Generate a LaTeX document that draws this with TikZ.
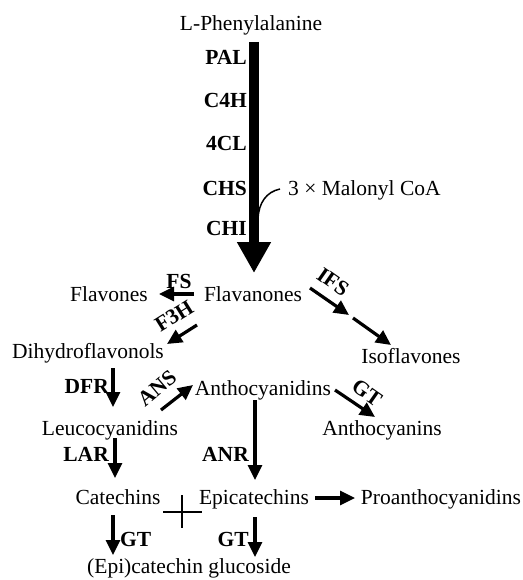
\documentclass[tikz,border=0pt]{standalone}
\usepackage{fontspec}
\setmainfont{Liberation Serif}
\usetikzlibrary{arrows.meta}
\begin{document}
\begin{tikzpicture}[x=1pt,y=-1pt,
  every node/.style={inner sep=0pt, font=\fontsize{21.5}{24}\selectfont},
  lbl/.style={anchor=base},
  enz/.style={font=\fontsize{21.5}{24}\selectfont\bfseries},
  arr/.style={line width=3.2pt, -{Triangle[length=15pt,width=14pt]}},
  thinline/.style={line width=1.2pt}]
\path[use as bounding box] (0,0) rectangle (522,580);

% compounds
\node[lbl] (phe) at (251,31) {L-Phenylalanine};
\node[lbl] (flavanones) at (253,301) {Flavanones};
\node[lbl] (flavones) at (109,301) {Flavones};
\node[lbl] (dihydro) at (88,358) {Dihydroflavonols};
\node[lbl] (anthocyanidins) at (263,395) {Anthocyanidins};
\node[lbl] (isoflavones) at (411,363) {Isoflavones};
\node[lbl] (leuco) at (110,435) {Leucocyanidins};
\node[lbl] (anthocyanins) at (382,435) {Anthocyanins};
\node[lbl] (catechins) at (118,504) {Catechins};
\node[lbl] (epicatechins) at (254,504) {Epicatechins};
\node[lbl] (proantho) at (441,504) {Proanthocyanidins};
\node[lbl] (glucoside) at (189,573) {(Epi)catechin glucoside};
\node[anchor=base west] (malonyl) at (288,195) {3 × Malonyl CoA};

% enzymes
\node[enz,anchor=base east] (pal) at (247,65) {PAL};
\node[enz,anchor=base east] (c4h) at (247,108) {C4H};
\node[enz,anchor=base east] (fcl) at (247,151) {4CL};
\node[enz,anchor=base east] (chs) at (247,195) {CHS};
\node[enz,anchor=base east] (chi) at (247,235) {CHI};
\node[enz,anchor=base] (fs) at (179,288) {FS};
\node[enz,rotate=32] (f3h) at (174,316) {F3H};
\node[enz,anchor=base east] (dfr) at (109,393) {DFR};
\node[enz,rotate=40] (ans) at (157,388) {ANS};
\node[enz,rotate=-35] (ifs) at (333,282) {IFS};
\node[enz,rotate=-35] (gta) at (367,393) {GT};
\node[enz,anchor=base east] (anr) at (249,461) {ANR};
\node[enz,anchor=base east] (lar) at (109,461) {LAR};
\node[enz,anchor=base west] (gtl) at (120,546) {GT};
\node[enz,anchor=base east] (gtr) at (249,546) {GT};

% arrow end points
\coordinate (mainTop) at (254,42);
\coordinate (mainTip) at (254,273);
\coordinate (malStart) at (280,189);
\coordinate (malEnd) at (258,218);
\coordinate (fsA) at (194,294);   \coordinate (fsB) at (159,294);
\coordinate (f3hA) at (197,325);  \coordinate (f3hB) at (167,344);
\coordinate (dfrA) at (113,368);  \coordinate (dfrB) at (113,407);
\coordinate (ansA) at (161,410);  \coordinate (ansB) at (193,385);
\coordinate (ifsA) at (310,288);  \coordinate (ifsB) at (349,315);
\coordinate (ifsC) at (353,318);  \coordinate (ifsD) at (391,345);
\coordinate (gtaA) at (335,390);  \coordinate (gtaB) at (375,417);
\coordinate (anrA) at (255,400);  \coordinate (anrB) at (255,480);
\coordinate (larA) at (115,438);  \coordinate (larB) at (115,478);
\coordinate (proA) at (315,498);  \coordinate (proB) at (355,498);
\coordinate (gtlA) at (113,515);  \coordinate (gtlB) at (113,555);
\coordinate (gtrA) at (255,517);  \coordinate (gtrB) at (255,557);
\coordinate (crossT) at (182,495); \coordinate (crossB) at (182,528);
\coordinate (crossL) at (163,512); \coordinate (crossR) at (202,512);

% main arrow
\draw[line width=10pt,-{Triangle[length=31pt,width=32pt]}] (mainTop) -- (mainTip);
\draw[line width=1.5pt] (malStart) .. controls (266,192) and (259,203) .. (malEnd);

% arrows
\draw[arr] (fsA) -- (fsB);
\draw[arr] (f3hA) -- (f3hB);
\draw[arr] (dfrA) -- (dfrB);
\draw[arr] (ansA) -- (ansB);
\draw[arr] (ifsA) -- (ifsB);
\draw[arr] (ifsC) -- (ifsD);
\draw[arr] (gtaA) -- (gtaB);
\draw[arr] (anrA) -- (anrB);
\draw[arr] (larA) -- (larB);
\draw[arr] (proA) -- (proB);
\draw[arr] (gtlA) -- (gtlB);
\draw[arr] (gtrA) -- (gtrB);
\draw[thinline] (crossT) -- (crossB);
\draw[thinline] (crossL) -- (crossR);
\end{tikzpicture}
\end{document}
